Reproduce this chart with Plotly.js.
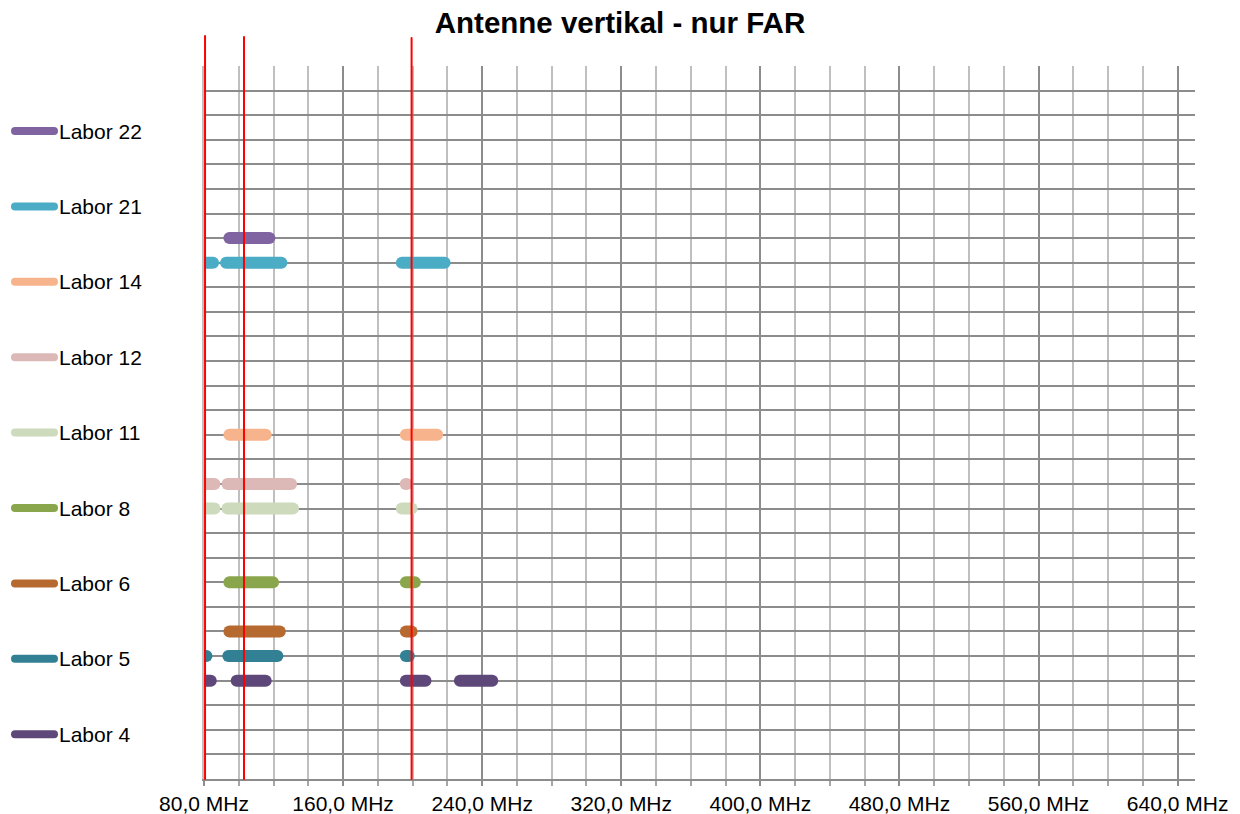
<!DOCTYPE html>
<html>
<head>
<meta charset="utf-8">
<script src="https://cdn.plot.ly/plotly-3.0.1.min.js"></script>
<style>
  html, body { margin: 0; padding: 0; background: #fff; }
  #chart { width: 1240px; height: 814px; }
  /* rounded ends for the frequency bands and legend swatches */
  .scatterlayer path.js-line { stroke-linecap: round !important; }
  .shapelayer path { stroke-linecap: round !important; }
</style>
</head>
<body>
<div id="chart"></div>
<script>
// Labs, in drawing order (bottom row first)
const labNames = ['Labor 4', 'Labor 5', 'Labor 6', 'Labor 8', 'Labor 11', 'Labor 12', 'Labor 14', 'Labor 21', 'Labor 22'];
// Row on the y axis for each lab
const labRows = [4, 5, 6, 8, 11, 12, 14, 21, 22];
// Band start / end frequencies in MHz for each lab
const bandStart = [
  [80, 98.8, 196.1, 227.2],
  [80, 94.0, 196.1],
  [94.6, 196.1],
  [94.6, 196.1],
  [80, 93.5, 193.8],
  [80, 93.5, 196.0],
  [94.6, 196.1],
  [80, 92.7, 193.8],
  [94.6]
];
const bandEnd = [
  [83.9, 115.5, 207.4, 245.8],
  [81.4, 122.2, 197.8],
  [123.6, 199.4],
  [119.7, 201.3],
  [86.0, 131.2, 199.4],
  [86.0, 130.1, 196.6],
  [115.5, 214.1],
  [85.2, 124.5, 218.4],
  [117.6]
];
const labColors = ['#5e487a', '#318093', '#b76a30', '#8aa64c', '#cddabb', '#dcb8b7', '#f7b48c', '#4bacc6', '#8064a2'];

// Reference frequencies marked in red (MHz)
const markerFreqs = [80.6, 103.0, 199.4];

// Axis settings
const xMin = 80, xMax = 650, xMajor = 80, xMinor = 20;
const yMin = 0, yMax = 29;

// Plot area in pixels
const W = 1240, H = 814;
const M = { l: 204, r: 45, t: 66, b: 35 };
const plotW = W - M.l - M.r, plotH = H - M.t - M.b;
const pxToPaperX = px => (px - M.l) / plotW;
const pxToPaperY = py => (H - M.b - py) / plotH;

const FONT = 'Liberation Sans, Arial, sans-serif';

const traces = labNames.map((name, i) => {
  const xs = [], ys = [];
  bandStart[i].forEach((s, k) => {
    xs.push(s, bandEnd[i][k], null);
    ys.push(labRows[i], labRows[i], null);
  });
  return {
    type: 'scatter', mode: 'lines', name: name,
    x: xs, y: ys, connectgaps: false,
    line: { color: labColors[i], width: 12 },
    hoverinfo: 'name+x', showlegend: false
  };
});

const shapes = [];
const annotations = [];

// Red marker lines, reaching above the plot area
const markerTops = [36, 37, 38];
markerFreqs.forEach((f, i) => {
  shapes.push({
    type: 'line', xref: 'x', yref: 'paper',
    x0: f, x1: f, y0: 0, y1: pxToPaperY(markerTops[i]),
    line: { color: '#ff0000', width: 2 }
  });
});

// Legend on the left, top entry = last lab
const legendTop = 131, legendStep = 75.4;
labNames.slice().reverse().forEach((name, j) => {
  const i = labNames.length - 1 - j;
  const cy = pxToPaperY(legendTop + j * legendStep);
  shapes.push({
    type: 'line', xref: 'paper', yref: 'paper',
    x0: pxToPaperX(15), x1: pxToPaperX(54), y0: cy, y1: cy,
    line: { color: labColors[i], width: 8 }
  });
  annotations.push({
    xref: 'paper', yref: 'paper', x: pxToPaperX(57), y: cy,
    xanchor: 'left', yanchor: 'middle', showarrow: false,
    text: name, font: { family: FONT, size: 21, color: '#000' }
  });
});

const layout = {
  width: W, height: H,
  margin: M,
  paper_bgcolor: '#fff', plot_bgcolor: '#fff',
  font: { family: FONT, color: '#000' },
  title: {
    text: '<b>Antenne vertikal - nur FAR</b>',
    font: { size: 29.5, family: FONT, color: '#000' },
    x: 0.5, xref: 'container', y: 1 - 23 / H, yref: 'container', yanchor: 'middle'
  },
  xaxis: {
    range: [xMin, xMax], tick0: xMin, dtick: xMajor,
    tickformat: '.1f', ticksuffix: ' MHz',
    showgrid: true, gridcolor: '#8c8c8c', gridwidth: 2,
    ticks: 'outside', ticklen: 5, tickwidth: 2, tickcolor: '#8c8c8c',
    minor: { tick0: xMin, dtick: xMinor, showgrid: true, gridcolor: '#bfbfbf', gridwidth: 2,
             ticks: 'outside', ticklen: 5, tickwidth: 2, tickcolor: '#a6a6a6' },
    showline: true, linecolor: '#8c8c8c', linewidth: 2,
    zeroline: false, tickfont: { size: 21, color: '#000' }
  },
  yaxis: {
    range: [yMin, yMax], dtick: 1, tick0: 0,
    showgrid: true, gridcolor: '#8c8c8c', gridwidth: 2,
    showticklabels: false, ticks: '', zeroline: false,
    showline: true, linecolor: '#bfbfbf', linewidth: 2
  },
  separators: ', ',
  showlegend: false,
  shapes: shapes,
  annotations: annotations
};

Plotly.newPlot('chart', traces, layout, { displayModeBar: false, staticPlot: true });
</script>
</body>
</html>
